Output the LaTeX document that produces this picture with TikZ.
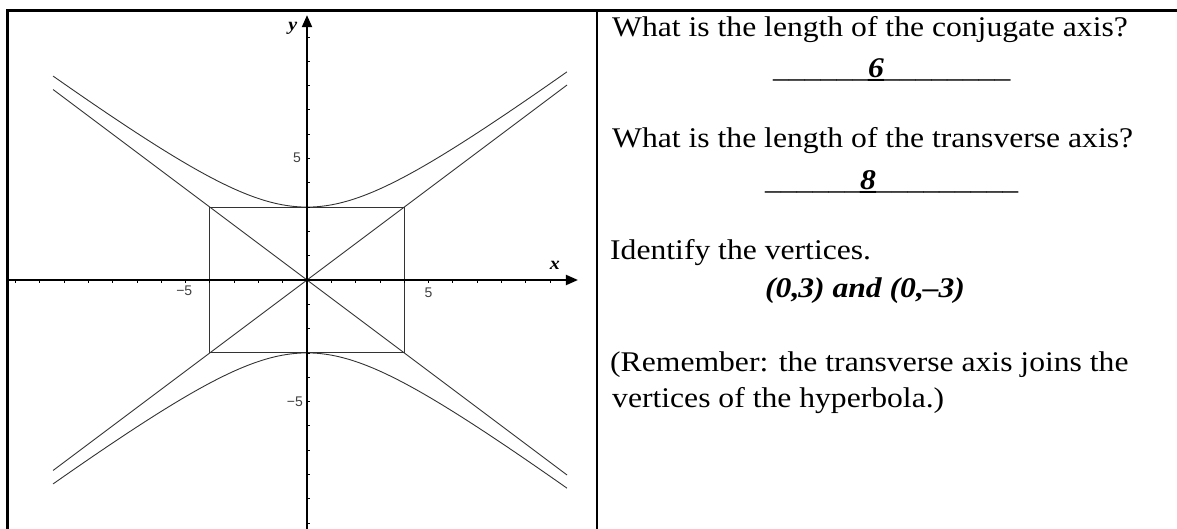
\documentclass[tikz,border=0pt]{standalone}
\usepackage{fontspec}
\setmainfont{Liberation Serif}[FakeStretch=1.11]
\newfontfamily\ticksans{Liberation Sans}
\usetikzlibrary{arrows.meta}
\begin{document}
\begin{tikzpicture}[x=1pt,y=-1pt,
  txt/.style={anchor=base west, inner sep=0pt, font=\fontsize{28.5}{34}\selectfont},
  frame/.style={line width=2.2pt},
  axisline/.style={line width=2pt, -{Triangle[length=12pt,width=10pt]}},
  curve/.style={line width=0.9pt, black!80},
  tickmark/.style={line width=0.8pt},
  lbl/.style={font=\ticksans\fontsize{14}{14}\selectfont, text=black!75, inner sep=0pt},
  axlbl/.style={font=\fontsize{18}{18}\selectfont\bfseries\itshape, inner sep=0pt},
]
\useasboundingbox (0,0) rectangle (1177,529);
% table frame
\draw[frame] (7.5,529) -- (7.5,10.5) -- (1177,10.5);
\draw[frame] (597,10.5) -- (597,529);

% graph
\begin{scope}[shift={(307,280)}, x=24.3pt, y=24.3pt]
  \draw[curve] (-4,-3) rectangle (4,3);
  \draw[curve] (-10.45,7.8375) -- (10.7,-8.025);
  \draw[curve] (-10.45,-7.8375) -- (10.7,8.025);
  \draw[curve] plot[domain=-10.45:10.7, samples=120, smooth] (\x,{3*sqrt(1+\x*\x/16)});
  \draw[curve] plot[domain=-10.45:10.7, samples=120, smooth] (\x,{-3*sqrt(1+\x*\x/16)});
  \foreach \i in {-12,...,10} \draw[tickmark] (\i,0) -- (\i,-0.13);
  \foreach \j in {-10,...,10} \draw[tickmark] (0,\j) -- (0.13,\j);
  \coordinate (xs) at (-12.26,0);
  \coordinate (xe) at (11.15,0);
  \coordinate (ys) at (0,-10.5);
  \coordinate (ye) at (0,10.9);
  \draw[axisline] (xs) -- (xe);
  \draw[axisline] (ys) -- (ye);
  \node[lbl] (xm5) at (-5.05,-0.46) {−5};
  \node[lbl] (xp5) at (5,-0.52) {5};
  \node[lbl] (yp5) at (-0.41,5.02) {5};
  \node[lbl] (ym5) at (-0.5,-5.0) {−5};
  \node[axlbl] (xl) at (10.2,0.62) {x};
  \node[axlbl] (yl) at (-0.58,10.37) {y};
\end{scope}

% text
\node[txt] (q1) at (612,36.5) {What is the length of the conjugate axis?};
\node[txt] (a1) at (773,77.5) {\_\_\_\_\_\_\rlap{\textbf{\_}}\textbf{\textit{6}}\_\_\_\_\_\_\_\_};
\node[txt] (q2) at (612,148) {What is the length of the transverse axis?};
\node[txt] (a2) at (765,189.5) {\_\_\_\_\_\_\rlap{\textbf{\_}}\textbf{\textit{8}}\_\_\_\_\_\_\_\_\_};
\node[txt] (q3) at (610,260) {Identify the vertices.};
\node[txt] (a3) at (765,297) {\textbf{\textit{(0,\kern-1.2pt 3) and (0,\kern-1.2pt –3)}}};
\node[txt] (r1) at (610,371) {(Remember: the transverse axis joins the};
\node[txt] (r2) at (612,407) {vertices of the hyperbola.)};
\end{tikzpicture}
\end{document}
